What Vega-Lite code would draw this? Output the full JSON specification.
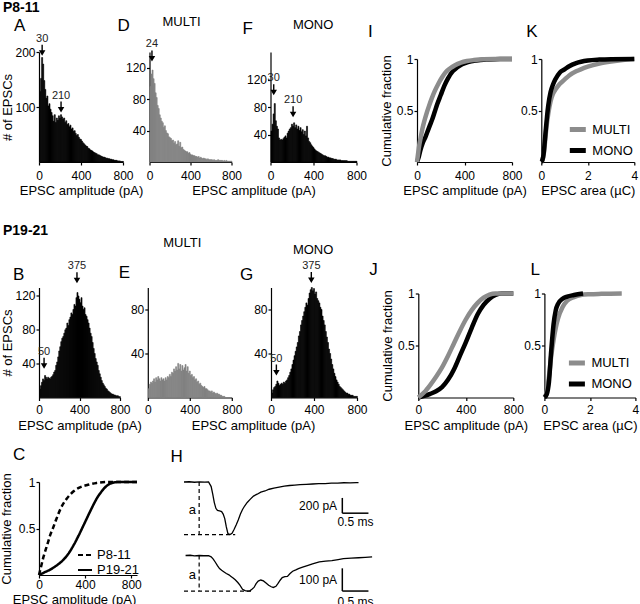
{
"$schema":"https://vega.github.io/schema/vega-lite/v6.json",
"background":"white",
"padding":{"left":0,"top":0,"right":0,"bottom":0},
"config":{
 "font":"Liberation Sans",
 "view":{"stroke":null},
 "axis":{"grid":false,"domainColor":"#000","tickColor":"#000","labelColor":"#000","titleColor":"#000","labelFontSize":12,"titleFontSize":13,"titleFontWeight":"normal","tickSize":3,"domainWidth":1.2,"tickWidth":1.2,"labelFlush":false,"labelOverlap":false},
 "title":{"fontSize":17,"fontWeight":"normal","anchor":"start","baseline":"bottom","color":"#000"},
 "legend":{"title":null,"labelFontSize":13,"labelColor":"#000","padding":0,"rowPadding":0,"labelOffset":4}
},
"datasets":{
 "hA":[{"x":0,"y":128},{"x":10,"y":152},{"x":20,"y":190},{"x":30,"y":178},{"x":40,"y":148},{"x":50,"y":132},{"x":60,"y":116},{"x":70,"y":120},{"x":80,"y":102},{"x":90,"y":106},{"x":100,"y":96},{"x":110,"y":90},{"x":120,"y":84},{"x":130,"y":74},{"x":140,"y":86},{"x":150,"y":72},{"x":160,"y":80},{"x":170,"y":76},{"x":180,"y":84},{"x":190,"y":80},{"x":200,"y":86},{"x":210,"y":82},{"x":220,"y":78},{"x":230,"y":80},{"x":240,"y":72},{"x":250,"y":75},{"x":260,"y":68},{"x":270,"y":70},{"x":280,"y":64},{"x":290,"y":67},{"x":300,"y":60},{"x":310,"y":62},{"x":320,"y":56},{"x":330,"y":57},{"x":340,"y":52},{"x":350,"y":48},{"x":360,"y":50},{"x":370,"y":45},{"x":380,"y":42},{"x":390,"y":41},{"x":400,"y":38},{"x":410,"y":35},{"x":420,"y":33},{"x":430,"y":31},{"x":440,"y":29},{"x":450,"y":28},{"x":460,"y":25},{"x":470,"y":24},{"x":480,"y":22},{"x":490,"y":21},{"x":500,"y":20},{"x":510,"y":18},{"x":520,"y":17},{"x":530,"y":16},{"x":540,"y":15},{"x":550,"y":13},{"x":560,"y":13},{"x":570,"y":12},{"x":580,"y":11},{"x":590,"y":10},{"x":600,"y":9},{"x":610,"y":9},{"x":620,"y":8},{"x":630,"y":7},{"x":640,"y":7},{"x":650,"y":6},{"x":660,"y":6},{"x":670,"y":5},{"x":680,"y":5},{"x":690,"y":4},{"x":700,"y":4},{"x":710,"y":3},{"x":720,"y":3},{"x":730,"y":3},{"x":740,"y":2},{"x":750,"y":2},{"x":760,"y":2},{"x":770,"y":1},{"x":780,"y":1},{"x":790,"y":1}],
 "hD":[{"x":0,"y":96},{"x":10,"y":112},{"x":20,"y":117},{"x":30,"y":106},{"x":40,"y":100},{"x":50,"y":88},{"x":60,"y":82},{"x":70,"y":72},{"x":80,"y":68},{"x":90,"y":60},{"x":100,"y":56},{"x":110,"y":52},{"x":120,"y":50},{"x":130,"y":44},{"x":140,"y":46},{"x":150,"y":40},{"x":160,"y":37},{"x":170,"y":36},{"x":180,"y":32},{"x":190,"y":31},{"x":200,"y":30},{"x":210,"y":27},{"x":220,"y":28},{"x":230,"y":24},{"x":240,"y":26},{"x":250,"y":22},{"x":260,"y":23},{"x":270,"y":27},{"x":280,"y":20},{"x":290,"y":25},{"x":300,"y":18},{"x":310,"y":19},{"x":320,"y":16},{"x":330,"y":15},{"x":340,"y":14},{"x":350,"y":13},{"x":360,"y":13},{"x":370,"y":11},{"x":380,"y":12},{"x":390,"y":10},{"x":400,"y":9},{"x":410,"y":9},{"x":420,"y":8},{"x":430,"y":8},{"x":440,"y":7},{"x":450,"y":7},{"x":460,"y":6},{"x":470,"y":7},{"x":480,"y":5},{"x":490,"y":6},{"x":500,"y":5},{"x":510,"y":4},{"x":520,"y":5},{"x":530,"y":4},{"x":540,"y":4},{"x":550,"y":3},{"x":560,"y":4},{"x":570,"y":3},{"x":580,"y":3},{"x":590,"y":3},{"x":600,"y":3},{"x":610,"y":2},{"x":620,"y":3},{"x":630,"y":2},{"x":640,"y":2},{"x":650,"y":2},{"x":660,"y":3},{"x":670,"y":2},{"x":680,"y":2},{"x":690,"y":2},{"x":700,"y":2},{"x":710,"y":1},{"x":720,"y":2},{"x":730,"y":1},{"x":740,"y":2},{"x":750,"y":1},{"x":760,"y":1},{"x":770,"y":1},{"x":780,"y":1},{"x":790,"y":1}],
 "hF":[{"x":0,"y":45},{"x":10,"y":55},{"x":20,"y":70},{"x":30,"y":85},{"x":40,"y":60},{"x":50,"y":52},{"x":60,"y":48},{"x":70,"y":35},{"x":80,"y":32},{"x":90,"y":33},{"x":100,"y":32},{"x":110,"y":34},{"x":120,"y":36},{"x":130,"y":38},{"x":140,"y":35},{"x":150,"y":42},{"x":160,"y":45},{"x":170,"y":48},{"x":180,"y":50},{"x":190,"y":55},{"x":200,"y":52},{"x":210,"y":57},{"x":220,"y":50},{"x":230,"y":54},{"x":240,"y":48},{"x":250,"y":52},{"x":260,"y":46},{"x":270,"y":50},{"x":280,"y":44},{"x":290,"y":47},{"x":300,"y":40},{"x":310,"y":45},{"x":320,"y":38},{"x":330,"y":52},{"x":340,"y":35},{"x":350,"y":30},{"x":360,"y":28},{"x":370,"y":25},{"x":380,"y":23},{"x":390,"y":21},{"x":400,"y":19},{"x":410,"y":17},{"x":420,"y":16},{"x":430,"y":15},{"x":440,"y":14},{"x":450,"y":13},{"x":460,"y":12},{"x":470,"y":11},{"x":480,"y":10},{"x":490,"y":9},{"x":500,"y":9},{"x":510,"y":8},{"x":520,"y":7},{"x":530,"y":7},{"x":540,"y":6},{"x":550,"y":6},{"x":560,"y":5},{"x":570,"y":5},{"x":580,"y":4},{"x":590,"y":4},{"x":600,"y":4},{"x":610,"y":3},{"x":620,"y":3},{"x":630,"y":3},{"x":640,"y":3},{"x":650,"y":2},{"x":660,"y":2},{"x":670,"y":2},{"x":680,"y":2},{"x":690,"y":2},{"x":700,"y":2},{"x":710,"y":1},{"x":720,"y":1},{"x":730,"y":1},{"x":740,"y":1},{"x":750,"y":1},{"x":760,"y":1},{"x":770,"y":1},{"x":780,"y":1},{"x":790,"y":1}],
 "hB":[{"x":0,"y":10},{"x":10,"y":14},{"x":20,"y":18},{"x":30,"y":22},{"x":40,"y":20},{"x":50,"y":26},{"x":60,"y":24},{"x":70,"y":22},{"x":80,"y":24},{"x":90,"y":23},{"x":100,"y":22},{"x":110,"y":24},{"x":120,"y":25},{"x":130,"y":27},{"x":140,"y":30},{"x":150,"y":32},{"x":160,"y":38},{"x":170,"y":42},{"x":180,"y":48},{"x":190,"y":55},{"x":200,"y":60},{"x":210,"y":66},{"x":220,"y":70},{"x":230,"y":72},{"x":240,"y":76},{"x":250,"y":80},{"x":260,"y":82},{"x":270,"y":88},{"x":280,"y":85},{"x":290,"y":92},{"x":300,"y":95},{"x":310,"y":100},{"x":320,"y":98},{"x":330,"y":104},{"x":340,"y":110},{"x":350,"y":108},{"x":360,"y":118},{"x":370,"y":124},{"x":380,"y":120},{"x":390,"y":116},{"x":400,"y":112},{"x":410,"y":118},{"x":420,"y":108},{"x":430,"y":104},{"x":440,"y":106},{"x":450,"y":98},{"x":460,"y":96},{"x":470,"y":92},{"x":480,"y":88},{"x":490,"y":82},{"x":500,"y":76},{"x":510,"y":72},{"x":520,"y":65},{"x":530,"y":58},{"x":540,"y":52},{"x":550,"y":46},{"x":560,"y":42},{"x":570,"y":38},{"x":580,"y":32},{"x":590,"y":28},{"x":600,"y":24},{"x":610,"y":20},{"x":620,"y":17},{"x":630,"y":15},{"x":640,"y":13},{"x":650,"y":11},{"x":660,"y":10},{"x":670,"y":8},{"x":680,"y":7},{"x":690,"y":6},{"x":700,"y":5},{"x":710,"y":4},{"x":720,"y":4},{"x":730,"y":3},{"x":740,"y":3},{"x":750,"y":2},{"x":760,"y":2},{"x":770,"y":2},{"x":780,"y":1},{"x":790,"y":1}],
 "hE":[{"x":0,"y":8},{"x":10,"y":12},{"x":20,"y":14},{"x":30,"y":13},{"x":40,"y":15},{"x":50,"y":17},{"x":60,"y":14},{"x":70,"y":18},{"x":80,"y":16},{"x":90,"y":19},{"x":100,"y":17},{"x":110,"y":15},{"x":120,"y":18},{"x":130,"y":16},{"x":140,"y":17},{"x":150,"y":15},{"x":160,"y":18},{"x":170,"y":16},{"x":180,"y":19},{"x":190,"y":18},{"x":200,"y":21},{"x":210,"y":19},{"x":220,"y":23},{"x":230,"y":22},{"x":240,"y":26},{"x":250,"y":24},{"x":260,"y":28},{"x":270,"y":25},{"x":280,"y":31},{"x":290,"y":26},{"x":300,"y":30},{"x":310,"y":24},{"x":320,"y":29},{"x":330,"y":25},{"x":340,"y":27},{"x":350,"y":30},{"x":360,"y":24},{"x":370,"y":28},{"x":380,"y":22},{"x":390,"y":24},{"x":400,"y":20},{"x":410,"y":21},{"x":420,"y":18},{"x":430,"y":19},{"x":440,"y":16},{"x":450,"y":17},{"x":460,"y":14},{"x":470,"y":15},{"x":480,"y":12},{"x":490,"y":13},{"x":500,"y":11},{"x":510,"y":10},{"x":520,"y":9},{"x":530,"y":10},{"x":540,"y":8},{"x":550,"y":8},{"x":560,"y":7},{"x":570,"y":6},{"x":580,"y":6},{"x":590,"y":5},{"x":600,"y":6},{"x":610,"y":4},{"x":620,"y":5},{"x":630,"y":4},{"x":640,"y":3},{"x":650,"y":4},{"x":660,"y":3},{"x":670,"y":3},{"x":680,"y":2},{"x":690,"y":2},{"x":700,"y":1},{"x":710,"y":1},{"x":720,"y":1}],
 "hG":[{"x":0,"y":4},{"x":10,"y":7},{"x":20,"y":9},{"x":30,"y":10},{"x":40,"y":12},{"x":50,"y":15},{"x":60,"y":13},{"x":70,"y":11},{"x":80,"y":12},{"x":90,"y":13},{"x":100,"y":12},{"x":110,"y":14},{"x":120,"y":13},{"x":130,"y":15},{"x":140,"y":16},{"x":150,"y":18},{"x":160,"y":20},{"x":170,"y":23},{"x":180,"y":26},{"x":190,"y":30},{"x":200,"y":34},{"x":210,"y":38},{"x":220,"y":42},{"x":230,"y":46},{"x":240,"y":50},{"x":250,"y":56},{"x":260,"y":60},{"x":270,"y":66},{"x":280,"y":70},{"x":290,"y":74},{"x":300,"y":78},{"x":310,"y":82},{"x":320,"y":86},{"x":330,"y":84},{"x":340,"y":90},{"x":350,"y":95},{"x":360,"y":98},{"x":370,"y":100},{"x":380,"y":97},{"x":390,"y":99},{"x":400,"y":94},{"x":410,"y":96},{"x":420,"y":90},{"x":430,"y":88},{"x":440,"y":86},{"x":450,"y":82},{"x":460,"y":80},{"x":470,"y":74},{"x":480,"y":70},{"x":490,"y":66},{"x":500,"y":60},{"x":510,"y":55},{"x":520,"y":50},{"x":530,"y":44},{"x":540,"y":40},{"x":550,"y":35},{"x":560,"y":30},{"x":570,"y":26},{"x":580,"y":22},{"x":590,"y":19},{"x":600,"y":16},{"x":610,"y":14},{"x":620,"y":12},{"x":630,"y":10},{"x":640,"y":9},{"x":650,"y":8},{"x":660,"y":7},{"x":670,"y":6},{"x":680,"y":5},{"x":690,"y":4},{"x":700,"y":4},{"x":710,"y":3},{"x":720,"y":3},{"x":730,"y":2},{"x":740,"y":2},{"x":750,"y":2},{"x":760,"y":1},{"x":770,"y":1},{"x":780,"y":1},{"x":790,"y":1}],
 "nA":[{"x":30,"y":193,"t":"30"},{"x":210,"y":90,"t":"210"}],
 "nD":[{"x":24,"y":128,"t":"24"}],
 "nF":[{"x":30,"y":97,"t":"30"},{"x":210,"y":65,"t":"210"}],
 "nB":[{"x":375,"y":135,"t":"375"},{"x":50,"y":34,"t":"50"}],
 "nG":[{"x":375,"y":104,"t":"375"},{"x":50,"y":20,"t":"50"}],
 "cI":[{"g":"MONO","x":0,"y":0},{"g":"MONO","x":15,"y":0.05},{"g":"MONO","x":30,"y":0.12},{"g":"MONO","x":50,"y":0.19},{"g":"MONO","x":70,"y":0.24},{"g":"MONO","x":90,"y":0.3},{"g":"MONO","x":110,"y":0.36},{"g":"MONO","x":130,"y":0.42},{"g":"MONO","x":150,"y":0.49},{"g":"MONO","x":170,"y":0.56},{"g":"MONO","x":200,"y":0.65},{"g":"MONO","x":230,"y":0.74},{"g":"MONO","x":260,"y":0.81},{"g":"MONO","x":300,"y":0.88},{"g":"MONO","x":340,"y":0.92},{"g":"MONO","x":380,"y":0.95},{"g":"MONO","x":430,"y":0.97},{"g":"MONO","x":500,"y":0.985},{"g":"MONO","x":600,"y":0.995},{"g":"MONO","x":700,"y":1},{"g":"MONO","x":800,"y":1},
  {"g":"MULTI","x":0,"y":0},{"g":"MULTI","x":10,"y":0.09},{"g":"MULTI","x":20,"y":0.17},{"g":"MULTI","x":30,"y":0.23},{"g":"MULTI","x":45,"y":0.32},{"g":"MULTI","x":60,"y":0.39},{"g":"MULTI","x":80,"y":0.47},{"g":"MULTI","x":100,"y":0.54},{"g":"MULTI","x":125,"y":0.62},{"g":"MULTI","x":150,"y":0.69},{"g":"MULTI","x":180,"y":0.76},{"g":"MULTI","x":210,"y":0.82},{"g":"MULTI","x":240,"y":0.87},{"g":"MULTI","x":280,"y":0.91},{"g":"MULTI","x":320,"y":0.94},{"g":"MULTI","x":370,"y":0.965},{"g":"MULTI","x":420,"y":0.98},{"g":"MULTI","x":480,"y":0.99},{"g":"MULTI","x":560,"y":0.998},{"g":"MULTI","x":650,"y":1},{"g":"MULTI","x":800,"y":1}],
 "cK":[{"g":"MULTI","x":0,"y":0},{"g":"MULTI","x":0.05,"y":0.02},{"g":"MULTI","x":0.1,"y":0.07},{"g":"MULTI","x":0.15,"y":0.17},{"g":"MULTI","x":0.2,"y":0.29},{"g":"MULTI","x":0.25,"y":0.39},{"g":"MULTI","x":0.3,"y":0.47},{"g":"MULTI","x":0.4,"y":0.59},{"g":"MULTI","x":0.5,"y":0.66},{"g":"MULTI","x":0.6,"y":0.7},{"g":"MULTI","x":0.8,"y":0.76},{"g":"MULTI","x":1.0,"y":0.8},{"g":"MULTI","x":1.2,"y":0.84},{"g":"MULTI","x":1.5,"y":0.88},{"g":"MULTI","x":1.7,"y":0.9},{"g":"MULTI","x":2.0,"y":0.925},{"g":"MULTI","x":2.5,"y":0.955},{"g":"MULTI","x":3.0,"y":0.975},{"g":"MULTI","x":3.5,"y":0.99},{"g":"MULTI","x":4.0,"y":1},
  {"g":"MONO","x":0,"y":0},{"g":"MONO","x":0.05,"y":0.02},{"g":"MONO","x":0.1,"y":0.08},{"g":"MONO","x":0.15,"y":0.2},{"g":"MONO","x":0.2,"y":0.33},{"g":"MONO","x":0.25,"y":0.45},{"g":"MONO","x":0.3,"y":0.55},{"g":"MONO","x":0.4,"y":0.68},{"g":"MONO","x":0.5,"y":0.75},{"g":"MONO","x":0.6,"y":0.8},{"g":"MONO","x":0.8,"y":0.87},{"g":"MONO","x":1.0,"y":0.9},{"g":"MONO","x":1.2,"y":0.93},{"g":"MONO","x":1.5,"y":0.96},{"g":"MONO","x":2.0,"y":0.985},{"g":"MONO","x":2.5,"y":0.994},{"g":"MONO","x":3.0,"y":0.998},{"g":"MONO","x":4.0,"y":1}],
 "cJ":[{"g":"MONO","x":0,"y":0},{"g":"MONO","x":50,"y":0.015},{"g":"MONO","x":100,"y":0.035},{"g":"MONO","x":150,"y":0.06},{"g":"MONO","x":200,"y":0.1},{"g":"MONO","x":250,"y":0.17},{"g":"MONO","x":300,"y":0.27},{"g":"MONO","x":350,"y":0.4},{"g":"MONO","x":400,"y":0.53},{"g":"MONO","x":450,"y":0.67},{"g":"MONO","x":500,"y":0.8},{"g":"MONO","x":550,"y":0.89},{"g":"MONO","x":600,"y":0.95},{"g":"MONO","x":650,"y":0.985},{"g":"MONO","x":700,"y":1},{"g":"MONO","x":800,"y":1},
  {"g":"MULTI","x":0,"y":0},{"g":"MULTI","x":50,"y":0.05},{"g":"MULTI","x":100,"y":0.12},{"g":"MULTI","x":150,"y":0.2},{"g":"MULTI","x":200,"y":0.29},{"g":"MULTI","x":250,"y":0.4},{"g":"MULTI","x":300,"y":0.52},{"g":"MULTI","x":350,"y":0.64},{"g":"MULTI","x":400,"y":0.75},{"g":"MULTI","x":450,"y":0.84},{"g":"MULTI","x":500,"y":0.91},{"g":"MULTI","x":550,"y":0.96},{"g":"MULTI","x":600,"y":0.99},{"g":"MULTI","x":650,"y":1},{"g":"MULTI","x":800,"y":1}],
 "cL":[{"g":"MULTI","x":0,"y":0},{"g":"MULTI","x":0.1,"y":0.05},{"g":"MULTI","x":0.2,"y":0.2},{"g":"MULTI","x":0.3,"y":0.4},{"g":"MULTI","x":0.4,"y":0.55},{"g":"MULTI","x":0.5,"y":0.67},{"g":"MULTI","x":0.6,"y":0.76},{"g":"MULTI","x":0.8,"y":0.87},{"g":"MULTI","x":1.0,"y":0.93},{"g":"MULTI","x":1.3,"y":0.965},{"g":"MULTI","x":1.6,"y":0.985},{"g":"MULTI","x":2.0,"y":0.993},{"g":"MULTI","x":2.5,"y":0.997},{"g":"MULTI","x":3.4,"y":1},
  {"g":"MONO","x":0,"y":0},{"g":"MONO","x":0.1,"y":0.03},{"g":"MONO","x":0.2,"y":0.15},{"g":"MONO","x":0.3,"y":0.45},{"g":"MONO","x":0.4,"y":0.7},{"g":"MONO","x":0.5,"y":0.84},{"g":"MONO","x":0.6,"y":0.9},{"g":"MONO","x":0.8,"y":0.95},{"g":"MONO","x":1.0,"y":0.97},{"g":"MONO","x":1.3,"y":0.985},{"g":"MONO","x":1.7,"y":1}],
 "cC":[{"g":"P8-11","x":0,"y":0},{"g":"P8-11","x":20,"y":0.1},{"g":"P8-11","x":40,"y":0.2},{"g":"P8-11","x":60,"y":0.28},{"g":"P8-11","x":80,"y":0.36},{"g":"P8-11","x":100,"y":0.44},{"g":"P8-11","x":120,"y":0.5},{"g":"P8-11","x":150,"y":0.6},{"g":"P8-11","x":190,"y":0.72},{"g":"P8-11","x":240,"y":0.82},{"g":"P8-11","x":300,"y":0.9},{"g":"P8-11","x":350,"y":0.94},{"g":"P8-11","x":425,"y":0.97},{"g":"P8-11","x":500,"y":0.99},{"g":"P8-11","x":600,"y":1},{"g":"P8-11","x":850,"y":1},
  {"g":"P19-21","x":0,"y":0},{"g":"P19-21","x":50,"y":0.03},{"g":"P19-21","x":100,"y":0.06},{"g":"P19-21","x":150,"y":0.1},{"g":"P19-21","x":200,"y":0.15},{"g":"P19-21","x":250,"y":0.22},{"g":"P19-21","x":300,"y":0.32},{"g":"P19-21","x":350,"y":0.44},{"g":"P19-21","x":400,"y":0.57},{"g":"P19-21","x":450,"y":0.7},{"g":"P19-21","x":500,"y":0.82},{"g":"P19-21","x":550,"y":0.91},{"g":"P19-21","x":600,"y":0.97},{"g":"P19-21","x":650,"y":0.995},{"g":"P19-21","x":700,"y":1},{"g":"P19-21","x":850,"y":1}],
 "tr1":[{"t":0,"v":0},{"t":0.1,"v":3},{"t":0.2,"v":-3},{"t":0.3,"v":2},{"t":0.4,"v":-2},{"t":0.47,"v":0},{"t":0.52,"v":-60},{"t":0.55,"v":-160},{"t":0.58,"v":-270},{"t":0.61,"v":-345},{"t":0.64,"v":-372},{"t":0.68,"v":-380},{"t":0.72,"v":-388},{"t":0.75,"v":-420},{"t":0.78,"v":-480},{"t":0.81,"v":-590},{"t":0.84,"v":-675},{"t":0.88,"v":-690},{"t":0.92,"v":-672},{"t":0.96,"v":-620},{"t":1.0,"v":-560},{"t":1.04,"v":-495},{"t":1.08,"v":-420},{"t":1.12,"v":-360},{"t":1.16,"v":-315},{"t":1.21,"v":-268},{"t":1.27,"v":-225},{"t":1.33,"v":-185},{"t":1.4,"v":-160},{"t":1.47,"v":-132},{"t":1.55,"v":-118},{"t":1.63,"v":-95},{"t":1.72,"v":-80},{"t":1.82,"v":-66},{"t":1.92,"v":-54},{"t":2.02,"v":-46},{"t":2.12,"v":-40},{"t":2.22,"v":-34},{"t":2.34,"v":-30},{"t":2.46,"v":-26},{"t":2.58,"v":-22},{"t":2.7,"v":-20},{"t":2.82,"v":-15},{"t":2.94,"v":-14},{"t":3.06,"v":-10},{"t":3.18,"v":-12},{"t":3.3,"v":-7},{"t":3.34,"v":-8}],
 "tr2":[{"t":0.03,"v":0},{"t":0.12,"v":1},{"t":0.2,"v":-2},{"t":0.29,"v":0},{"t":0.38,"v":-1},{"t":0.47,"v":-1},{"t":0.52,"v":-6},{"t":0.56,"v":-16},{"t":0.6,"v":-30},{"t":0.64,"v":-45},{"t":0.68,"v":-58},{"t":0.72,"v":-66},{"t":0.76,"v":-72},{"t":0.81,"v":-80},{"t":0.86,"v":-86},{"t":0.9,"v":-93},{"t":0.94,"v":-100},{"t":0.98,"v":-108},{"t":1.03,"v":-120},{"t":1.07,"v":-132},{"t":1.12,"v":-150},{"t":1.17,"v":-156},{"t":1.21,"v":-158},{"t":1.26,"v":-157},{"t":1.3,"v":-150},{"t":1.34,"v":-142},{"t":1.38,"v":-125},{"t":1.42,"v":-114},{"t":1.47,"v":-109},{"t":1.52,"v":-113},{"t":1.57,"v":-122},{"t":1.62,"v":-132},{"t":1.67,"v":-139},{"t":1.71,"v":-142},{"t":1.76,"v":-137},{"t":1.8,"v":-124},{"t":1.84,"v":-110},{"t":1.88,"v":-98},{"t":1.93,"v":-94},{"t":1.98,"v":-93},{"t":2.03,"v":-80},{"t":2.08,"v":-70},{"t":2.14,"v":-64},{"t":2.19,"v":-58},{"t":2.27,"v":-52},{"t":2.36,"v":-45},{"t":2.46,"v":-37},{"t":2.59,"v":-28},{"t":2.71,"v":-25},{"t":2.83,"v":-23},{"t":2.95,"v":-18},{"t":3.05,"v":-14},{"t":3.2,"v":-12},{"t":3.34,"v":-10},{"t":3.47,"v":-8},{"t":3.6,"v":-6}]
},
"resolve":{"scale":{"color":"independent","strokeDash":"independent"},"legend":{"color":"independent","strokeDash":"independent"}},
"spacing":14,
"vconcat":[
 {"spacing":25.5,"resolve":{"scale":{"color":"independent","strokeDash":"independent"},"legend":{"color":"independent","strokeDash":"independent"}},
  "vconcat":[
  {"title":{"text":"P8-11","fontSize":14,"fontWeight":"bold","dx":1,"offset":1.5},"spacing":1,
   "resolve":{"scale":{"color":"independent"},"legend":{"color":"independent"}},
   "hconcat":[
    {"spacing":-50.5,"hconcat":[
      {"spacing":-25.5,"hconcat":[
          {"width":84,"height":110,"title":{"text":"A","frame":"group","dx":-25,"offset":-2.4},
           "layer":[
            {"data":{"name":"hA"},"mark":{"type":"bar","color":"#000","stroke":"#000","strokeWidth":0.6,"binSpacing":0},
             "encoding":{"x":{"field":"x","type":"quantitative","bin":{"binned":true,"step":10},"scale":{"domain":[0,800]},"axis":{"values":[0,400,800],"title":"EPSC amplitude (pA)","labelPadding":5,"titlePadding":3.5}},
              "y":{"field":"y","type":"quantitative","scale":{"domain":[0,200]},"axis":{"values":[100,200],"title":"# of EPSCs","titlePadding":0,"labelPadding":1}}}},
            {"data":{"name":"nA"},"mark":{"type":"point","shape":"M-0.14,-2.2L0.14,-2.2L0.14,-1.1L0.65,-1.1L0,0L-0.65,-1.1L-0.14,-1.1Z","filled":true,"size":100,"color":"#000","opacity":1,"strokeWidth":0},
             "encoding":{"x":{"field":"x","type":"quantitative"},"y":{"field":"y","type":"quantitative"}}},
            {"data":{"name":"nA"},"mark":{"type":"text","dy":-12,"baseline":"bottom","fontSize":11,"color":"#222"},
             "encoding":{"x":{"field":"x","type":"quantitative"},"y":{"field":"y","type":"quantitative"},"text":{"field":"t"}}}
           ]},
        {"title":{"text":"MULTI","fontSize":13,"anchor":"middle","offset":-12.7,"dx":2},"vconcat":[
          {"width":82,"height":110,"title":{"text":"D","frame":"group","dx":-32,"offset":3.7},
           "layer":[
            {"data":{"name":"hD"},"mark":{"type":"bar","color":"#828282","stroke":"#828282","strokeWidth":0.6,"binSpacing":0},
             "encoding":{"x":{"field":"x","type":"quantitative","bin":{"binned":true,"step":10},"scale":{"domain":[0,800]},"axis":{"values":[0,400,800],"title":null,"labelPadding":5}},
              "y":{"field":"y","type":"quantitative","scale":{"domain":[0,140]},"axis":{"values":[40,80,120],"title":null,"labelPadding":1}}}},
            {"data":{"name":"nD"},"mark":{"type":"point","shape":"M-0.14,-2.2L0.14,-2.2L0.14,-1.1L0.65,-1.1L0,0L-0.65,-1.1L-0.14,-1.1Z","filled":true,"size":100,"color":"#000","opacity":1,"strokeWidth":0},
             "encoding":{"x":{"field":"x","type":"quantitative"},"y":{"field":"y","type":"quantitative"}}},
            {"data":{"name":"nD"},"mark":{"type":"text","dy":-12,"baseline":"bottom","fontSize":11,"color":"#222"},
             "encoding":{"x":{"field":"x","type":"quantitative"},"y":{"field":"y","type":"quantitative"},"text":{"field":"t"}}}
           ]}
        ]}
      ]},
      {"title":{"text":"MONO","fontSize":13,"anchor":"middle","offset":-12.7,"dx":34},"vconcat":[
        {"width":86,"height":110,"title":{"text":"F","frame":"group","dx":-28,"offset":14.3},
         "layer":[
          {"data":{"name":"hF"},"mark":{"type":"bar","color":"#000","stroke":"#000","strokeWidth":0.6,"binSpacing":0},
           "encoding":{"x":{"field":"x","type":"quantitative","bin":{"binned":true,"step":10},"scale":{"domain":[0,800]},"axis":{"values":[0,400,800],"title":"EPSC amplitude (pA)","titleX":-17,"labelPadding":5,"titlePadding":3.5}},
            "y":{"field":"y","type":"quantitative","scale":{"domain":[0,150]},"axis":{"values":[40,80,120],"title":null,"labelPadding":1}}}},
          {"data":{"name":"nF"},"mark":{"type":"point","shape":"M-0.14,-2.2L0.14,-2.2L0.14,-1.1L0.65,-1.1L0,0L-0.65,-1.1L-0.14,-1.1Z","filled":true,"size":100,"color":"#000","opacity":1,"strokeWidth":0},
           "encoding":{"x":{"field":"x","type":"quantitative"},"y":{"field":"y","type":"quantitative"}}},
          {"data":{"name":"nF"},"mark":{"type":"text","dy":-12,"baseline":"bottom","fontSize":11,"color":"#222"},
           "encoding":{"x":{"field":"x","type":"quantitative"},"y":{"field":"y","type":"quantitative"},"text":{"field":"t"}}}
         ]}
      ]}
    ]},
    {"spacing":-6.7,"resolve":{"scale":{"color":"independent"},"legend":{"color":"independent"}},"hconcat":[
        {"width":95,"height":110,"title":{"text":"I","frame":"group","dx":-49,"offset":9},
         "data":{"name":"cI"},"mark":{"type":"line","strokeWidth":4.5,"interpolate":"monotone"},
         "encoding":{"x":{"field":"x","type":"quantitative","scale":{"domain":[0,800]},"axis":{"values":[0,400,800],"title":"EPSC amplitude (pA)","labelPadding":5,"titlePadding":3.5}},
          "y":{"field":"y","type":"quantitative","scale":{"domain":[0,1],"range":[110,7]},"axis":{"values":[0.5,1],"format":"~g","title":"Cumulative fraction","titlePadding":3,"labelPadding":1}},
          "color":{"field":"g","type":"nominal","scale":{"domain":["MULTI","MONO"],"range":["#8c8c8c","#000000"]},"legend":null}}},
        {"width":93,"height":110,"title":{"text":"K","frame":"group","dx":-15,"offset":9},
         "data":{"name":"cK"},"mark":{"type":"line","strokeWidth":4.5,"interpolate":"monotone"},
         "encoding":{"x":{"field":"x","type":"quantitative","scale":{"domain":[0,4]},"axis":{"values":[0,2,4],"title":"EPSC area (µC)","labelPadding":5,"titlePadding":3.5}},
          "y":{"field":"y","type":"quantitative","scale":{"domain":[0,1],"range":[110,7]},"axis":{"values":[0.5,1],"format":"~g","title":null,"labelPadding":1}},
          "color":{"field":"g","type":"nominal","scale":{"domain":["MULTI","MONO"],"range":["#8c8c8c","#000000"]},"legend":{"orient":"bottom-right","offset":1,"symbolType":"stroke","symbolStrokeWidth":5,"symbolSize":256,"rowPadding":-1}}}}
    ]}
   ]},
  {"title":{"text":"P19-21","fontSize":14,"fontWeight":"bold","dx":1,"offset":-1.5},"spacing":1.3,
   "resolve":{"scale":{"color":"independent"},"legend":{"color":"independent"}},
   "hconcat":[
    {"spacing":-51,"hconcat":[
      {"spacing":-23.2,"hconcat":[
          {"width":81,"height":110,"title":{"text":"B","frame":"group","dx":-26,"offset":-23.6},
           "layer":[
            {"data":{"name":"hB"},"mark":{"type":"bar","color":"#000","stroke":"#000","strokeWidth":0.6,"binSpacing":0},
             "encoding":{"x":{"field":"x","type":"quantitative","bin":{"binned":true,"step":10},"scale":{"domain":[0,800]},"axis":{"values":[0,400,800],"title":"EPSC amplitude (pA)","labelPadding":4,"titlePadding":3.5}},
              "y":{"field":"y","type":"quantitative","scale":{"domain":[0,130]},"axis":{"values":[40,80,120],"title":"# of EPSCs","titlePadding":0,"labelPadding":1}}}},
            {"data":{"name":"nB"},"mark":{"type":"point","shape":"M-0.14,-2.2L0.14,-2.2L0.14,-1.1L0.65,-1.1L0,0L-0.65,-1.1L-0.14,-1.1Z","filled":true,"size":100,"color":"#000","opacity":1,"strokeWidth":0},
             "encoding":{"x":{"field":"x","type":"quantitative"},"y":{"field":"y","type":"quantitative"}}},
            {"data":{"name":"nB"},"mark":{"type":"text","dy":-12,"baseline":"bottom","fontSize":11,"color":"#222"},
             "encoding":{"x":{"field":"x","type":"quantitative"},"y":{"field":"y","type":"quantitative"},"text":{"field":"t"}}}
           ]},
        {"title":{"text":"MULTI","fontSize":13,"anchor":"middle","offset":14.2,"dx":2},"vconcat":[
          {"width":84,"height":110,"title":{"text":"E","frame":"group","dx":-29,"offset":5.6},
           "data":{"name":"hE"},"mark":{"type":"bar","color":"#828282","stroke":"#828282","strokeWidth":0.6,"binSpacing":0},
           "encoding":{"x":{"field":"x","type":"quantitative","bin":{"binned":true,"step":10},"scale":{"domain":[0,800]},"axis":{"values":[0,400,800],"title":null,"labelPadding":4}},
            "y":{"field":"y","type":"quantitative","scale":{"domain":[0,100]},"axis":{"values":[40,80],"title":null,"labelPadding":1}}}}
        ]}
      ]},
      {"title":{"text":"MONO","fontSize":13,"anchor":"middle","offset":3.4,"dx":34},"vconcat":[
        {"width":86,"height":110,"title":{"text":"G","frame":"group","dx":-31,"offset":-23.8},
         "layer":[
          {"data":{"name":"hG"},"mark":{"type":"bar","color":"#000","stroke":"#000","strokeWidth":0.6,"binSpacing":0},
           "encoding":{"x":{"field":"x","type":"quantitative","bin":{"binned":true,"step":10},"scale":{"domain":[0,800]},"axis":{"values":[0,400,800],"title":"EPSC amplitude (pA)","titleX":-18,"labelPadding":4,"titlePadding":3.5}},
            "y":{"field":"y","type":"quantitative","scale":{"domain":[0,100]},"axis":{"values":[40,80],"title":null,"labelPadding":1}}}},
          {"data":{"name":"nG"},"mark":{"type":"point","shape":"M-0.14,-2.2L0.14,-2.2L0.14,-1.1L0.65,-1.1L0,0L-0.65,-1.1L-0.14,-1.1Z","filled":true,"size":100,"color":"#000","opacity":1,"strokeWidth":0},
           "encoding":{"x":{"field":"x","type":"quantitative"},"y":{"field":"y","type":"quantitative"}}},
          {"data":{"name":"nG"},"mark":{"type":"text","dy":-12,"baseline":"bottom","fontSize":11,"color":"#222"},
           "encoding":{"x":{"field":"x","type":"quantitative"},"y":{"field":"y","type":"quantitative"},"text":{"field":"t"}}}
         ]}
      ]}
    ]},
    {"spacing":-4.9,"resolve":{"scale":{"color":"independent"},"legend":{"color":"independent"}},"hconcat":[
        {"width":95,"height":110,"title":{"text":"J","frame":"group","dx":-49,"offset":5.6},
         "data":{"name":"cJ"},"mark":{"type":"line","strokeWidth":4.5,"interpolate":"monotone"},
         "encoding":{"x":{"field":"x","type":"quantitative","scale":{"domain":[0,800]},"axis":{"values":[0,400,800],"title":"EPSC amplitude (pA)","labelPadding":4,"titlePadding":3.5}},
          "y":{"field":"y","type":"quantitative","scale":{"domain":[0,1],"range":[110,6]},"axis":{"values":[0.5,1],"format":"~g","title":"Cumulative fraction","titlePadding":3,"labelPadding":1}},
          "color":{"field":"g","type":"nominal","scale":{"domain":["MULTI","MONO"],"range":["#8c8c8c","#000000"]},"legend":null}}},
        {"width":91,"height":110,"title":{"text":"L","frame":"group","dx":-14,"offset":5.6},
         "data":{"name":"cL"},"mark":{"type":"line","strokeWidth":4.5,"interpolate":"monotone"},
         "encoding":{"x":{"field":"x","type":"quantitative","scale":{"domain":[0,4]},"axis":{"values":[0,2,4],"title":"EPSC area (µC)","labelPadding":4,"titlePadding":3.5}},
          "y":{"field":"y","type":"quantitative","scale":{"domain":[0,1],"range":[110,6]},"axis":{"values":[0.5,1],"format":"~g","title":null,"labelPadding":1}},
          "color":{"field":"g","type":"nominal","scale":{"domain":["MULTI","MONO"],"range":["#8c8c8c","#000000"]},"legend":{"orient":"bottom-right","offset":3,"symbolType":"stroke","symbolStrokeWidth":5,"symbolSize":256,"rowPadding":-1}}}}
    ]}
   ]}
 ]},
 {"spacing":28,"resolve":{"scale":{"strokeDash":"independent"},"legend":{"strokeDash":"independent"}},"hconcat":[
   {"width":98,"height":93,"title":{"text":"C","frame":"group","dx":-26,"offset":8.7},
    "data":{"name":"cC"},"mark":{"type":"line","color":"#000","strokeWidth":2.5,"interpolate":"monotone"},
    "encoding":{"x":{"field":"x","type":"quantitative","scale":{"domain":[0,850]},"axis":{"values":[0,400,800],"title":"EPSC amplitude (pA)","titleX":35,"labelPadding":1,"titlePadding":3}},
     "y":{"field":"y","type":"quantitative","scale":{"domain":[0,1]},"axis":{"values":[0.5,1],"format":"~g","title":"Cumulative fraction","titlePadding":5,"labelPadding":1}},
     "strokeDash":{"field":"g","type":"nominal","scale":{"domain":["P8-11","P19-21"],"range":[[5,3],[1,0]]},"legend":{"orient":"bottom-right","offset":-2,"symbolType":"stroke","symbolStrokeWidth":2,"symbolSize":196,"symbolStrokeColor":"#000"}}}},
   {"title":{"text":"H","anchor":"start","dx":-11,"offset":13},"spacing":8,"vconcat":[
     {"width":209,"height":61,
      "layer":[
       {"data":{"name":"tr1"},"mark":{"type":"line","color":"#000","strokeWidth":1.3},
        "encoding":{"x":{"field":"t","type":"quantitative","scale":{"domain":[0,3.6]},"axis":null},"y":{"field":"v","type":"quantitative","scale":{"domain":[-717,0]},"axis":null}}},
       {"data":{"values":[{"t":0,"t2":0.98,"v":-690,"v2":-690},{"t":0.29,"t2":0.29,"v":0,"v2":-690}]},"mark":{"type":"rule","strokeDash":[4,3],"strokeWidth":1.2,"color":"#000"},
        "encoding":{"x":{"field":"t","type":"quantitative"},"x2":{"field":"t2"},"y":{"field":"v","type":"quantitative"},"y2":{"field":"v2"}}},
       {"data":{"values":[{"t":3.03,"t2":3.03,"v":-209,"v2":-409},{"t":3.03,"t2":3.53,"v":-409,"v2":-409}]},"mark":{"type":"rule","strokeWidth":1.5,"color":"#000"},
        "encoding":{"x":{"field":"t","type":"quantitative"},"x2":{"field":"t2"},"y":{"field":"v","type":"quantitative"},"y2":{"field":"v2"}}},
       {"data":{"values":[{"t":0.16,"v":-373,"s":"a"}]},"mark":{"type":"text","fontSize":13,"align":"center","baseline":"middle","color":"#000"},
        "encoding":{"x":{"field":"t","type":"quantitative"},"y":{"field":"v","type":"quantitative"},"text":{"field":"s"}}},
       {"data":{"values":[{"t":2.93,"v":-318,"s":"200 pA"}]},"mark":{"type":"text","fontSize":12,"align":"right","baseline":"middle","color":"#000"},
        "encoding":{"x":{"field":"t","type":"quantitative"},"y":{"field":"v","type":"quantitative"},"text":{"field":"s"}}},
       {"data":{"values":[{"t":3.28,"v":-526,"s":"0.5 ms"}]},"mark":{"type":"text","fontSize":12,"align":"center","baseline":"middle","color":"#000"},
        "encoding":{"x":{"field":"t","type":"quantitative"},"y":{"field":"v","type":"quantitative"},"text":{"field":"s"}}}
      ]},
     {"width":209,"height":45,
      "layer":[
       {"data":{"name":"tr2"},"mark":{"type":"line","color":"#000","strokeWidth":1.3},
        "encoding":{"x":{"field":"t","type":"quantitative","scale":{"domain":[0,3.6]},"axis":null},"y":{"field":"v","type":"quantitative","scale":{"domain":[-180,16]},"axis":null}}},
       {"data":{"values":[{"t":0,"t2":1.33,"v":-158,"v2":-158},{"t":0.29,"t2":0.29,"v":0,"v2":-158}]},"mark":{"type":"rule","strokeDash":[4,3],"strokeWidth":1.2,"color":"#000"},
        "encoding":{"x":{"field":"t","type":"quantitative"},"x2":{"field":"t2"},"y":{"field":"v","type":"quantitative"},"y2":{"field":"v2"}}},
       {"data":{"values":[{"t":3.03,"t2":3.03,"v":-57,"v2":-158},{"t":3.03,"t2":3.53,"v":-158,"v2":-158}]},"mark":{"type":"rule","strokeWidth":1.5,"color":"#000"},
        "encoding":{"x":{"field":"t","type":"quantitative"},"x2":{"field":"t2"},"y":{"field":"v","type":"quantitative"},"y2":{"field":"v2"}}},
       {"data":{"values":[{"t":0.16,"v":-88,"s":"a"}]},"mark":{"type":"text","fontSize":13,"align":"center","baseline":"middle","color":"#000"},
        "encoding":{"x":{"field":"t","type":"quantitative"},"y":{"field":"v","type":"quantitative"},"text":{"field":"s"}}},
       {"data":{"values":[{"t":2.93,"v":-110,"s":"100 pA"}]},"mark":{"type":"text","fontSize":12,"align":"right","baseline":"middle","color":"#000"},
        "encoding":{"x":{"field":"t","type":"quantitative"},"y":{"field":"v","type":"quantitative"},"text":{"field":"s"}}},
       {"data":{"values":[{"t":3.28,"v":-205,"s":"0.5 ms"}]},"mark":{"type":"text","fontSize":12,"align":"center","baseline":"middle","color":"#000"},
        "encoding":{"x":{"field":"t","type":"quantitative"},"y":{"field":"v","type":"quantitative"},"text":{"field":"s"}}}
      ]}
   ]}
 ]}
]
}
